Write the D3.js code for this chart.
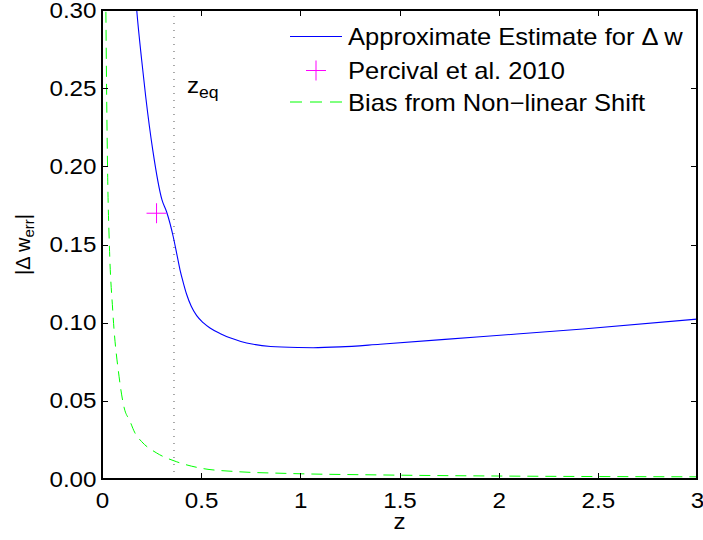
<!DOCTYPE html>
<html>
<head>
<meta charset="utf-8">
<script src="https://cdn.jsdelivr.net/npm/d3@7"></script>
<style>
  body { margin: 0; background: #fff; }
  text { font-family: "Liberation Sans", Arial, Helvetica, sans-serif; fill: #000; }
</style>
</head>
<body>
<div id="chart"></div>
<script>
// approximate estimate for delta w (blue)
var estZ = [0.16, 0.175, 0.2, 0.22, 0.256, 0.3025, 0.326, 0.3595, 0.377, 0.393, 0.41, 0.427, 0.45,
            0.4775, 0.51, 0.5445, 0.6, 0.645, 0.7, 0.763, 0.85, 0.99, 1.064, 1.2, 1.402, 1.906, 2.425, 3.0];
var estW = [0.325, 0.300, 0.268, 0.245, 0.2104, 0.1785, 0.1708, 0.1548, 0.1440, 0.1340, 0.1255, 0.1180, 0.1105,
            0.1045, 0.1000, 0.0966, 0.0928, 0.0903, 0.0880, 0.0862, 0.0848, 0.0841, 0.0840, 0.0845, 0.0862,
            0.0910, 0.0959, 0.1023];
// bias from non-linear shift (green dashed)
var biasZ = [0.017, 0.020, 0.0287, 0.0368, 0.054, 0.0862, 0.111, 0.141, 0.166, 0.2, 0.276,
             0.377, 0.504, 0.67, 0.923, 1.4, 2.0, 3.0];
var biasW = [0.345, 0.2936, 0.193, 0.151, 0.108, 0.0654, 0.046, 0.0370, 0.0295, 0.0239, 0.0166,
             0.0110, 0.0068, 0.0048, 0.0036, 0.0026, 0.0019, 0.0014];
// Percival et al. 2010 point
var percivalZ = [0.275];
var percivalW = [0.170];
var zEq = 0.363;

var xTicks = [0, 0.5, 1, 1.5, 2, 2.5, 3];
var xTickLabels = ["0", "0.5", "1", "1.5", "2", "2.5", "3"];
var yTicks = [0, 0.05, 0.10, 0.15, 0.20, 0.25, 0.30];
var yTickLabels = ["0.00", "0.05", "0.10", "0.15", "0.20", "0.25", "0.30"];

var legendLabels = ["Approximate Estimate for \u0394 w", "Percival et al. 2010", "Bias from Non\u2212linear Shift"];

var W = 703, H = 540;
var margin = {top: 10, right: 6, bottom: 61, left: 102};
var sx = 1.1; // horizontal stretch of the text

var svg = d3.select("#chart").append("svg")
    .attr("width", W).attr("height", H);

var x = d3.scaleLinear().domain([0, 3]).range([margin.left, W - margin.right]);
var y = d3.scaleLinear().domain([0, 0.3]).range([H - margin.bottom, margin.top]);

// clip to plot area
svg.append("clipPath").attr("id", "plotclip")
  .append("rect")
    .attr("x", x(0)).attr("y", y(0.3))
    .attr("width", x(3) - x(0)).attr("height", y(0) - y(0.3));

var plot = svg.append("g").attr("clip-path", "url(#plotclip)");

// z_eq dotted line
plot.append("line")
    .attr("x1", x(zEq)).attr("x2", x(zEq))
    .attr("y1", y(0)).attr("y2", y(0.3))
    .attr("stroke", "#555").attr("stroke-width", 1)
    .attr("stroke-dasharray", "1,6");

var line = d3.line()
    .x(function (d) { return x(d[0]); })
    .y(function (d) { return y(d[1]); })
    .curve(d3.curveMonotoneX);

plot.append("path")
    .datum(d3.zip(biasZ, biasW))
    .attr("d", line)
    .attr("fill", "none").attr("stroke", "#00ff00").attr("stroke-width", 1)
    .attr("stroke-dasharray", "11,7");

plot.append("path")
    .datum(d3.zip(estZ, estW))
    .attr("d", line)
    .attr("fill", "none").attr("stroke", "#0000ff").attr("stroke-width", 1.1);

// plus marker
function plus(g, cx, cy, r) {
    g.append("line").attr("x1", cx - r).attr("x2", cx + r).attr("y1", cy).attr("y2", cy)
        .attr("stroke", "#ff00ff").attr("stroke-width", 1);
    g.append("line").attr("x1", cx).attr("x2", cx).attr("y1", cy - r).attr("y2", cy + r)
        .attr("stroke", "#ff00ff").attr("stroke-width", 1);
}
d3.zip(percivalZ, percivalW).forEach(function (d) {
    plus(plot, x(d[0]), y(d[1]), 10);
});

// axes, ticks inside on all four sides
function styleAxis(g) {
    g.select(".domain").remove();
    g.selectAll(".tick line").attr("stroke", "#000").attr("shape-rendering", "crispEdges");
    g.selectAll("text").style("font-size", "22px").attr("fill", "#000");
}

var gx = svg.append("g")
    .attr("transform", "translate(0," + y(0) + ")")
    .call(d3.axisBottom(x).tickValues(xTicks).tickSize(-6).tickPadding(13)
        .tickFormat(function (d, i) { return xTickLabels[i]; }));
styleAxis(gx);
gx.selectAll("text").attr("transform", "scale(" + sx + ",1)");

var gy = svg.append("g")
    .attr("transform", "translate(" + x(0) + ",0)")
    .call(d3.axisLeft(y).tickValues(yTicks).tickSize(-6).tickPadding(5)
        .tickFormat(function (d, i) { return yTickLabels[i]; }));
styleAxis(gy);
gy.selectAll("text").attr("transform", "scale(" + sx + ",1)");

var gt = svg.append("g")
    .attr("transform", "translate(0," + y(0.3) + ")")
    .call(d3.axisTop(x).tickValues(xTicks).tickSize(-6).tickFormat(""));
styleAxis(gt);

var gr = svg.append("g")
    .attr("transform", "translate(" + x(3) + ",0)")
    .call(d3.axisRight(y).tickValues(yTicks).tickSize(-6).tickFormat(""));
styleAxis(gr);

// box
svg.append("rect")
    .attr("x", x(0)).attr("y", y(0.3))
    .attr("width", x(3) - x(0)).attr("height", y(0) - y(0.3))
    .attr("fill", "none").attr("stroke", "#000").attr("stroke-width", 1.2)
    .attr("shape-rendering", "crispEdges");

// z_eq label
var zl = svg.append("text")
    .attr("transform", "translate(" + (x(zEq) + 13) + ",93) scale(" + sx + ",1)")
    .style("font-size", "22px");
zl.append("tspan").text("z");
zl.append("tspan").attr("dy", 5).style("font-size", "16px").text("eq");

// axis titles
svg.append("text")
    .attr("transform", "translate(" + ((x(0) + x(3)) / 2) + ",529) scale(" + sx + ",1)")
    .attr("text-anchor", "middle")
    .style("font-size", "22px")
    .text("z");

var yl = svg.append("text")
    .attr("transform", "translate(30," + ((y(0) + y(0.3)) / 2) + ") rotate(-90)")
    .attr("text-anchor", "middle")
    .style("font-size", "20px");
yl.append("tspan").text("|\u0394 w");
yl.append("tspan").attr("dy", 4).style("font-size", "15px").text("err");
yl.append("tspan").attr("dy", -4).text("|");

// legend
var legX0 = 290, legX1 = 342, legTextX = 348, legY = [36.5, 70.5, 102];
var legSx = 1.11;
var leg = svg.append("g");
leg.append("line").attr("x1", legX0).attr("x2", legX1).attr("y1", legY[0]).attr("y2", legY[0])
    .attr("stroke", "#0000ff").attr("stroke-width", 1.1);
plus(leg, (legX0 + legX1) / 2, legY[1], 10);
leg.append("line").attr("x1", legX0).attr("x2", legX1).attr("y1", legY[2]).attr("y2", legY[2])
    .attr("stroke", "#00ff00").attr("stroke-width", 1).attr("stroke-dasharray", "12,8");
legendLabels.forEach(function (t, i) {
    leg.append("text")
        .attr("transform", "translate(" + legTextX + "," + (legY[i] + 8.5) + ") scale(" + legSx + ",1)")
        .style("font-size", "23px")
        .text(t);
});
</script>
</body>
</html>
